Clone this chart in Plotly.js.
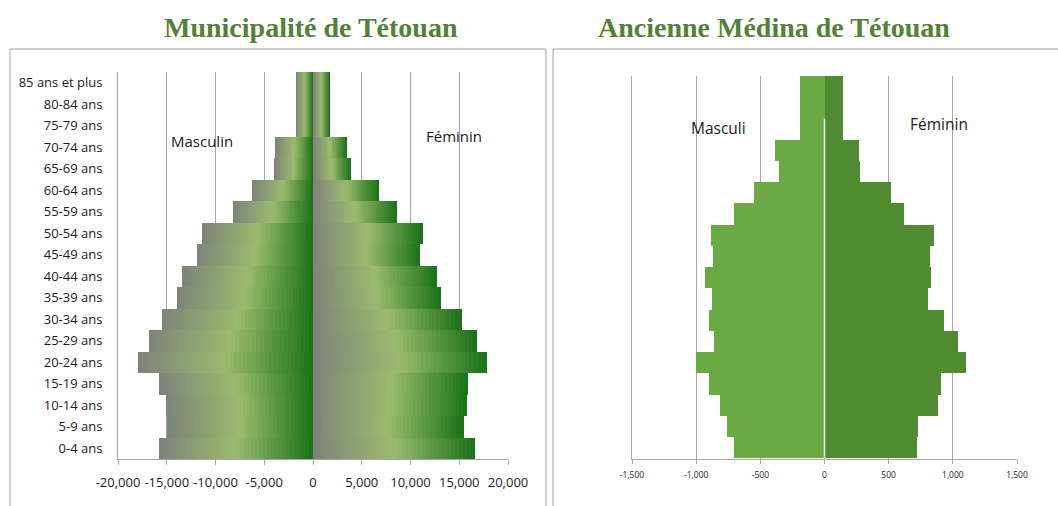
<!DOCTYPE html>
<html>
<head>
<meta charset="utf-8">
<script src="https://cdn.plot.ly/plotly-3.0.1.min.js"></script>
<style>html,body{margin:0;padding:0;background:#fff;}#chart{width:1058px;height:506px;}</style>
</head>
<body>
<div id="chart"></div>
<script>
// ---------- data ----------
const ageGroups = ['0-4 ans','5-9 ans','10-14 ans','15-19 ans','20-24 ans','25-29 ans','30-34 ans','35-39 ans','40-44 ans','45-49 ans','50-54 ans','55-59 ans','60-64 ans','65-69 ans','70-74 ans','75-79 ans','80-84 ans','85 ans et plus'];

// Municipalité de Tétouan
const municipMale   = [-15800,-14960,-15100,-15800,-17960,-16800,-15500,-13970,-13400,-11900,-11400,-8170,-6220,-4000,-3850,-1730,-1730,-1730];
const municipFemale = [16600,15450,15800,15900,17800,16800,15300,13100,12700,10960,11250,8600,6750,3850,3470,1700,1700,1700];

// Ancienne Médina de Tétouan
const medinaMale   = [-704,-760,-814,-900,-1002,-859,-900,-877,-932,-869,-885,-704,-548,-352,-384,-188,-188,-188];
const medinaFemale = [718,725,882,906,1101,1039,929,807,828,820,851,616,522,279,271,146,146,146];

const leftTickVals  = [-20000,-15000,-10000,-5000,0,5000,10000,15000,20000];
const leftTickText  = ['-20,000','-15,000','-10,000','-5,000','0','5,000','10,000','15,000','20,000'];
const rightTickVals = [-1500,-1000,-500,0,500,1000,1500];
const rightTickText = ['-1,500','-1,000','-500','0','500','1,000','1,500'];

const titles = ['Municipalité de Tétouan','Ancienne Médina de Tétouan'];
const sexLabels = ['Masculin','Féminin','Masculi'];

// ---------- helpers ----------
const W = 1058, H = 506;
const px = v => v / W;
const py = v => 1 - v / H;

function hex2rgb(h){return [parseInt(h.substr(1,2),16),parseInt(h.substr(3,2),16),parseInt(h.substr(5,2),16)];}
const gradStops = [[0,'#7e8379'],[0.5,'#9aba6e'],[1,'#1b7219']];
function grad(t){
  for(let k=0;k<gradStops.length-1;k++){
    const [t0,c0]=gradStops[k],[t1,c1]=gradStops[k+1];
    if(t<=t1){
      const a=(t-t0)/(t1-t0), A=hex2rgb(c0), B=hex2rgb(c1);
      return 'rgb('+A.map((v,i)=>Math.round(v+(B[i]-v)*a)).join(',')+')';
    }
  }
  return gradStops[gradStops.length-1][1];
}

const traces = [];
// Left chart: gradient shading built from overlaid layers of the same bars
const N = 40;
for(let i=0;i<N;i++){
  const f = 1 - i/N;
  traces.push({type:'bar', orientation:'h', y:ageGroups, x:municipMale.map(v=>v*f),
    xaxis:'x', yaxis:'y', marker:{color:grad((i+0.5)/N), line:{width:0}}, hoverinfo:'skip', width:1});
}
for(let i=0;i<N;i++){
  const f = 1 - i/N;
  traces.push({type:'bar', orientation:'h', y:ageGroups, x:municipFemale.map(v=>v*f),
    xaxis:'x', yaxis:'y', marker:{color:grad(1-(i+0.5)/N), line:{width:0}}, hoverinfo:'skip', width:1});
}
// Right chart
traces.push({type:'bar', orientation:'h', y:ageGroups, x:medinaMale, xaxis:'x2', yaxis:'y2',
  marker:{color:'#6aa944', line:{width:0}}, hoverinfo:'skip', width:1});
traces.push({type:'bar', orientation:'h', y:ageGroups, x:medinaFemale, xaxis:'x2', yaxis:'y2',
  marker:{color:'#508a31', line:{width:0}}, hoverinfo:'skip', width:1});

const txtFont = {family:'"Open Sans", "Noto Sans", sans-serif', color:'#1a1a1a'};
const gridC = '#a6a6a6';

const layout = {
  width:W, height:H, margin:{l:0,r:0,t:0,b:0},
  paper_bgcolor:'#ffffff', plot_bgcolor:'rgba(0,0,0,0)',
  showlegend:false, barmode:'overlay', bargap:0,
  xaxis:{domain:[px(118),px(508)], anchor:'y', range:[-20000,20000],
    tickvals:leftTickVals, ticktext:leftTickText, showgrid:true, gridcolor:gridC, gridwidth:1,
    zeroline:false, showline:true, linecolor:gridC, ticks:'outside', ticklen:5, tickcolor:gridC,
    ticklabelstandoff:6, tickfont:Object.assign({size:13}, txtFont), fixedrange:true},
  yaxis:{domain:[py(459),py(72)], anchor:'x', type:'category', categoryorder:'array', categoryarray:ageGroups,
    showgrid:false, zeroline:false, showline:true, linecolor:gridC, ticks:'',
    ticklabelstandoff:12, tickfont:Object.assign({size:13}, txtFont), fixedrange:true},
  xaxis2:{domain:[px(632),px(1017)], anchor:'y2', range:[-1500,1500],
    tickvals:rightTickVals, ticktext:rightTickText, showgrid:true, gridcolor:gridC, gridwidth:1,
    zeroline:false, showline:true, linecolor:gridC, ticks:'outside', ticklen:4, tickcolor:gridC,
    ticklabelstandoff:4, tickfont:Object.assign({size:8.5}, txtFont), fixedrange:true},
  yaxis2:{domain:[py(459),py(76)], anchor:'x2', type:'category', categoryorder:'array', categoryarray:ageGroups,
    showgrid:false, zeroline:false, showline:true, linecolor:gridC, showticklabels:false, ticks:'', fixedrange:true},
  shapes:[
    {type:'rect', xref:'paper', yref:'paper', x0:px(10), x1:px(546), y0:-0.2, y1:py(49),
      line:{color:'#a0a0a0', width:1}, fillcolor:'rgba(0,0,0,0)', layer:'below'},
    {type:'rect', xref:'paper', yref:'paper', x0:px(553), x1:1.1, y0:-0.2, y1:py(49),
      line:{color:'#a0a0a0', width:1}, fillcolor:'rgba(0,0,0,0)', layer:'below'},
    {type:'line', xref:'x2', yref:'y2', x0:0, x1:0, y0:-0.5, y1:15.5,
      line:{color:'#e6eedf', width:1.5}, layer:'above'}
  ],
  annotations:[
    {xref:'paper', yref:'paper', x:px(311), y:py(27), text:'<b>'+titles[0]+'</b>', showarrow:false,
      xanchor:'center', yanchor:'middle', font:{family:'"Liberation Serif", "DejaVu Serif", serif', size:28, color:'#538135'}},
    {xref:'paper', yref:'paper', x:px(774), y:py(27), text:'<b>'+titles[1]+'</b>', showarrow:false,
      xanchor:'center', yanchor:'middle', font:{family:'"Liberation Serif", "DejaVu Serif", serif', size:28, color:'#538135'}},
    {xref:'paper', yref:'paper', x:px(202), y:py(141), text:sexLabels[0], showarrow:false,
      xanchor:'center', yanchor:'middle', font:Object.assign({size:15}, txtFont)},
    {xref:'paper', yref:'paper', x:px(454), y:py(136), text:sexLabels[1], showarrow:false,
      xanchor:'center', yanchor:'middle', font:Object.assign({size:15}, txtFont)},
    {xref:'paper', yref:'paper', x:px(718), y:py(128), text:sexLabels[2], showarrow:false,
      xanchor:'center', yanchor:'middle', font:Object.assign({size:15.5}, txtFont)},
    {xref:'paper', yref:'paper', x:px(939), y:py(124), text:sexLabels[1], showarrow:false,
      xanchor:'center', yanchor:'middle', font:Object.assign({size:15.5}, txtFont)}
  ]
};

Plotly.newPlot('chart', traces, layout, {staticPlot:true, displayModeBar:false});
</script>
</body>
</html>
